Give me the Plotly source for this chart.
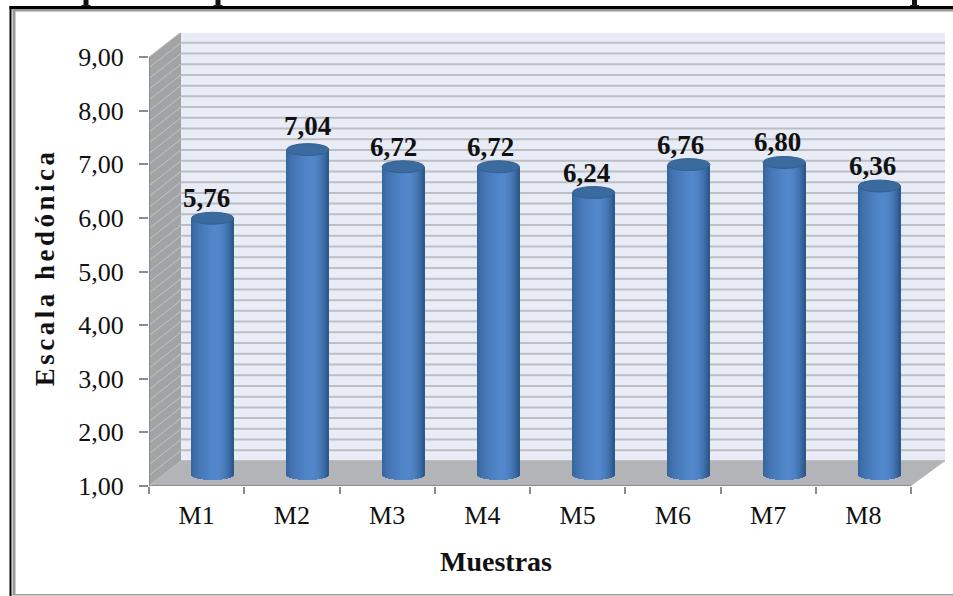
import math
import plotly.graph_objects as go

categories = ["M1", "M2", "M3", "M4", "M5", "M6", "M7", "M8"]
values = [5.76, 7.04, 6.72, 6.72, 6.24, 6.76, 6.80, 6.36]
value_labels = ["5,76", "7,04", "6,72", "6,72", "6,24", "6,76", "6,80", "6,36"]
y_ticks = [1, 2, 3, 4, 5, 6, 7, 8, 9]
y_tick_labels = ["1,00", "2,00", "3,00", "4,00", "5,00", "6,00", "7,00", "8,00", "9,00"]
y_title = "Escala hedónica"
x_title = "Muestras"
label_dx = [-6, 0, -10, -8, -7, -8, -7, -7]
label_dy = [14, 18, 14, 14, 14, 14, 14, 14]

W, H = 953, 596
L, R = 149, 945        # plot area including depth
B, T = 486, 33
CAT_PX = (911 - 149) / 8
UNIT_PX = (486 - 57) / 8
DX = 32 / CAT_PX       # depth offset, data units
DY = 25 / UNIT_PX
SERIF = "Liberation Serif"
FS = 26
FS_BOLD = 27
INK = "#111111"
AXIS = "#8c8c8c"


def px(x):
    return (x - L) / (R - L)


def py(y):
    return (B - y) / (B - T)


def lerp(c1, c2, t):
    return "rgb(" + ",".join(str(round(a + (b - a) * t)) for a, b in zip(c1, c2)) + ")"


def shade(t):
    # t in [-1, 1] across the cylinder
    edgeL, mid, edgeR = (50, 96, 152), (82, 135, 203), (42, 86, 136)
    peak = 0.1
    if t < peak:
        return lerp(edgeL, mid, ((t + 1) / (1 + peak)) ** 0.55)
    return lerp(mid, edgeR, ((t - peak) / (1 - peak)) ** 2.4)


WALL_R = 7.5 + (R - 911) / CAT_PX
shapes = []
# back wall
shapes.append(dict(type="rect", x0=-0.5 + DX, x1=WALL_R, y0=1 + DY, y1=9 + DY,
                   fillcolor="#e8ecf6", line_width=0, layer="below"))
# left wall
shapes.append(dict(type="path",
                   path=f"M -0.5 1 L -0.5 9 L {-0.5 + DX} {9 + DY} L {-0.5 + DX} {1 + DY} Z",
                   fillcolor="#a2a3a5", line_width=0, layer="below"))
# gridlines every 0.2
for k in range(41):
    y = 1 + k * 0.2
    shapes.append(dict(type="line", x0=-0.5 + DX, x1=WALL_R, y0=y + DY, y1=y + DY,
                       line=dict(color="#bcbec2", width=2), layer="below"))
    shapes.append(dict(type="line", x0=-0.5, x1=-0.5 + DX, y0=y, y1=y + DY,
                       line=dict(color="#c4c5c7", width=1), layer="below"))
# floor
shapes.append(dict(type="path",
                   path=f"M -0.5 1 L 7.5 1 L {WALL_R} {1 + DY} L {-0.5 + DX} {1 + DY} Z",
                   fillcolor="#b2b4b7", line_width=0, layer="below"))
# axis lines
shapes.append(dict(type="line", x0=-0.5, x1=7.5, y0=1, y1=1, line=dict(color=AXIS, width=2), layer="above"))
shapes.append(dict(type="line", x0=-0.5, x1=-0.5, y0=1, y1=9, line=dict(color=AXIS, width=2), layer="above"))

fig = go.Figure()

# cylinders as thin vertical strips
BAR_W = 42 / CAT_PX
CX = DX / 2
EH = 6 / UNIT_PX
STRIPS = 42
base_c = 1 + DY / 2 - 0.02
tops = [v + DY / 2 for v in values]
for s in range(STRIPS):
    t = -1 + 2 * (s + 0.5) / STRIPS
    drop = (5.5 / UNIT_PX) * math.sqrt(max(0, 1 - t * t))
    w = BAR_W / STRIPS
    off = CX - BAR_W / 2 + s * w
    base = base_c - drop
    fig.add_trace(go.Bar(x=categories, y=[tp - base for tp in tops], base=base,
                         width=w * 1.6 if s < STRIPS - 1 else w, offset=off,
                         marker=dict(color=shade(t), line_width=0),
                         showlegend=False, hoverinfo="skip"))

for i, v in enumerate(values):
    yc = v + DY / 2
    shapes.append(dict(type="circle", x0=i + CX - BAR_W / 2, x1=i + CX + BAR_W / 2,
                       y0=yc - EH, y1=yc + EH, fillcolor="#3b6a9f",
                       line=dict(color="#34608f", width=1), layer="above"))

annotations = [dict(x=i + CX, y=v + DY / 2 + EH, text=f"<b>{value_labels[i]}</b>", showarrow=False,
                    xshift=label_dx[i], yshift=label_dy[i], yanchor="middle",
                    font=dict(family=SERIF, size=FS_BOLD, color=INK))
               for i, v in enumerate(values)]
annotations.append(dict(x=px(496), y=py(561), xref="paper", yref="paper", text=f"<b>{x_title}</b>",
                        xanchor="center", yanchor="middle", showarrow=False,
                        font=dict(family=SERIF, size=28, color=INK)))
annotations.append(dict(x=px(45), y=py(267), xref="paper", yref="paper", text=f"<b>{y_title}</b>",
                        xanchor="center", yanchor="middle", textangle=-90, showarrow=False,
                        font=dict(family=SERIF, size=FS_BOLD, color=INK)))


def prect(x0, x1, y0, y1, color):
    return dict(type="rect", xref="paper", yref="paper", x0=px(x0), x1=px(x1), y0=py(y0), y1=py(y1),
                fillcolor=color, line_width=0, layer="above")


# page frame and the clipped caption above it
shapes += [
    prect(9.5, 953, 6, 9, "#000000"),
    prect(12.5, 953, 9, 11.5, "#9a9a9a"),
    prect(9.5, 11.5, 6, 596, "#000000"),
    prect(12.5, 15.5, 9, 595, "#9a9a9a"),
    prect(12.5, 953, 594, 595.5, "#9a9a9a"),
]
for cx in (86, 218, 914.5):
    shapes.append(prect(cx - 2.5, cx + 2.5, 0, 5, "#111111"))
    shapes.append(prect(cx - 4.5, cx + 4.5, 5, 6, "#222222"))

fig.update_layout(
    width=W, height=H, autosize=False,
    margin=dict(l=L, r=W - R, t=T, b=H - B, pad=0),
    paper_bgcolor="white", plot_bgcolor="white",
    barmode="overlay", bargap=0,
    showlegend=False,
    shapes=shapes,
    annotations=annotations,
    xaxis=dict(type="category", categoryorder="array", categoryarray=categories,
               range=[-0.5, WALL_R], tickson="boundaries",
               ticks="outside", ticklen=7, tickwidth=2, tickcolor=AXIS,
               ticklabelstandoff=11,
               showgrid=False, showline=False, zeroline=False,
               tickfont=dict(family=SERIF, size=FS, color=INK)),
    yaxis=dict(range=[1, 9 + (57 - T) / UNIT_PX], tickmode="array", tickvals=y_ticks, ticktext=y_tick_labels,
               ticks="outside", ticklen=9, tickwidth=2, tickcolor=AXIS,
               ticklabelstandoff=10,
               showgrid=False, showline=False, zeroline=False,
               tickfont=dict(family=SERIF, size=FS, color=INK)),
)
post = """
document.body.style.margin = '0';
document.querySelectorAll('.annotation-text').forEach(function (el) {
  if (el.textContent === %r) { el.style.letterSpacing = '3.5px'; }
});
""" % y_title
fig.write_html("out.html", post_script=post, config=dict(displayModeBar=False))
